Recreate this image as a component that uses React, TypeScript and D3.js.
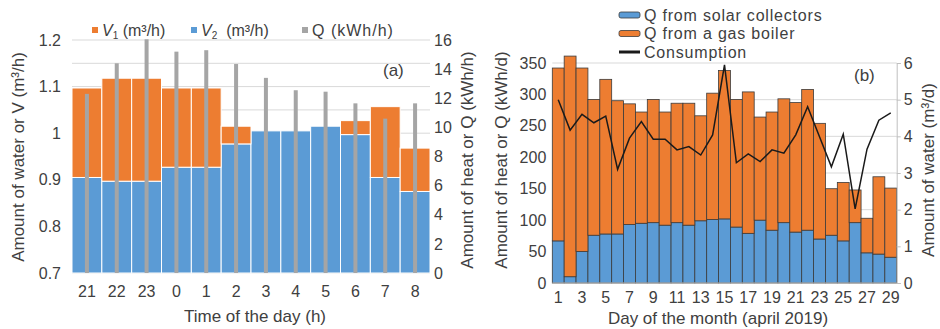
import { useEffect, useRef } from 'react'
import * as d3 from 'd3'

// chart (a): hourly water and heat
const hours = ['21', '22', '23', '0', '1', '2', '3', '4', '5', '6', '7', '8']
const v2Values = [0.905, 0.897, 0.897, 0.927, 0.927, 0.977, 1.005, 1.005, 1.015, 0.997, 0.905, 0.875]
const v1Values = [0.192, 0.221, 0.221, 0.17, 0.17, 0.038, 0, 0, 0, 0.03, 0.152, 0.093]
const qHourly = [12.3, 14.4, 16.05, 15.2, 15.3, 14.35, 13.4, 12.55, 12.45, 11.65, 10.6, 11.65]

// chart (b): daily values, april 2019
const days = [1, 2, 3, 4, 5, 6, 7, 8, 9, 10, 11, 12, 13, 14, 15, 16, 17, 18, 19, 20, 21, 22, 23, 24, 25, 26, 27, 28, 29]
const solarQ = [67, 10, 50, 76, 78, 78, 93, 95, 96, 92, 96, 92, 99, 101, 102, 89, 79, 100, 84, 96, 81, 84, 70, 76, 67, 96, 48, 46, 41]
const boilerQ = [275, 351, 292, 216, 246, 212, 192, 177, 196, 180, 190, 194, 167, 201, 236, 203, 225, 164, 188, 197, 206, 224, 184, 74, 93, 52, 55, 123, 110]
const consumption = [5.0, 4.17, 4.6, 4.37, 4.55, 3.1, 3.95, 4.4, 3.92, 3.92, 3.63, 3.72, 3.49, 4.04, 5.95, 3.28, 3.52, 3.31, 3.63, 3.54, 4.04, 4.81, 3.99, 3.17, 4.06, 2.02, 3.65, 4.44, 4.64]
const dayTicks = [1, 3, 5, 7, 9, 11, 13, 15, 17, 19, 21, 23, 25, 27, 29]

const ORANGE = '#ED7D31'
const BLUE = '#5B9BD5'
const GRAY = '#A5A5A5'
const GRID = '#D9D9D9'
const TEXT = '#404040'
const FONT = '"Liberation Sans", Arial, sans-serif'

export default function App() {
  const svgRef = useRef<SVGSVGElement>(null)

  useEffect(() => {
    if (!svgRef.current) return
    const svg = d3.select(svgRef.current)
    svg.selectAll('*').remove()
    svg.attr('font-family', FONT)

    // ---------- chart (a) ----------
    const a = svg.append('g')
    const xA = d3.scaleBand().domain(hours).range([72, 430]).padding(0)
    const yA = d3.scaleLinear().domain([0.7, 1.2]).range([273, 40])
    const yQ = d3.scaleLinear().domain([0, 16]).range([273, 40])

    a.append('g')
      .selectAll('line')
      .data(yA.ticks(10))
      .enter()
      .append('line')
      .attr('x1', 72)
      .attr('x2', 430)
      .attr('y1', (d) => yA(d))
      .attr('y2', (d) => yA(d))
      .attr('stroke', GRID)

    const rows = hours.map((h, i) => ({ h, v2: v2Values[i], v1: v1Values[i], q: qHourly[i] }))

    a.selectAll('.v2')
      .data(rows)
      .enter()
      .append('rect')
      .attr('x', (d) => xA(d.h) || 0)
      .attr('width', xA.bandwidth())
      .attr('y', (d) => yA(d.v2))
      .attr('height', (d) => yA(0.7) - yA(d.v2))
      .attr('fill', BLUE)
      .attr('stroke', '#fff')
      .attr('stroke-width', 1)

    a.selectAll('.v1')
      .data(rows.filter((d) => d.v1 > 0))
      .enter()
      .append('rect')
      .attr('x', (d) => xA(d.h) || 0)
      .attr('width', xA.bandwidth())
      .attr('y', (d) => yA(d.v2 + d.v1))
      .attr('height', (d) => yA(d.v2) - yA(d.v2 + d.v1))
      .attr('fill', ORANGE)
      .attr('stroke', '#fff')
      .attr('stroke-width', 1)

    a.selectAll('.q')
      .data(rows)
      .enter()
      .append('rect')
      .attr('x', (d) => (xA(d.h) || 0) + xA.bandwidth() / 2 - 2)
      .attr('width', 4)
      .attr('y', (d) => yQ(d.q))
      .attr('height', (d) => yQ(0) - yQ(d.q))
      .attr('fill', GRAY)

    const axA = a.append('g').attr('transform', 'translate(72,0)').call(
      d3.axisLeft(yA).ticks(5).tickFormat(d3.format('~g')).tickSize(0).tickPadding(11)
    )
    const axAR = a.append('g').attr('transform', 'translate(430,0)').call(
      d3.axisRight(yQ).ticks(8).tickSize(0).tickPadding(4)
    )
    const axAB = a.append('g').attr('transform', 'translate(0,273)').call(
      d3.axisBottom(xA).tickSize(0).tickPadding(13)
    )
    ;[axA, axAR, axAB].forEach((ax) => {
      ax.select('.domain').remove()
      ax.selectAll('text').attr('font-size', 16).attr('fill', TEXT).attr('font-family', FONT)
    })

    a.append('text')
      .attr('x', 255)
      .attr('y', 322)
      .attr('text-anchor', 'middle')
      .attr('font-size', 17)
      .attr('fill', TEXT)
      .text('Time of the day (h)')

    a.append('text')
      .attr('transform', 'translate(24,157) rotate(-90)')
      .attr('text-anchor', 'middle')
      .attr('font-size', 17)
      .attr('fill', TEXT)
      .text('Amount of water or V (m³/h)')

    a.append('text')
      .attr('transform', 'translate(473,160) rotate(-90)')
      .attr('text-anchor', 'middle')
      .attr('font-size', 17)
      .attr('fill', TEXT)
      .text('Amount of heat or Q (kWh/h)')

    a.append('text')
      .attr('x', 383)
      .attr('y', 76)
      .attr('font-size', 17)
      .attr('fill', TEXT)
      .text('(a)')

    // legend (a)
    const legA = [
      { x: 92, color: ORANGE, sub: '1', label: ' (m³/h)' },
      { x: 191, color: BLUE, sub: '2', label: '  (m³/h)' },
      { x: 302, color: GRAY, sub: '', label: 'Q (kWh/h)' },
    ]
    legA.forEach((d) => {
      a.append('rect').attr('x', d.x).attr('y', 27).attr('width', 6).attr('height', 6).attr('fill', d.color)
      const t = a
        .append('text')
        .attr('x', d.x + 10)
        .attr('y', 36)
        .attr('font-size', 16)
        .attr('fill', TEXT)
        .attr('xml:space', 'preserve')
      if (d.sub) {
        t.append('tspan').attr('font-style', 'italic').text('V')
        t.append('tspan').attr('font-size', 10).attr('dy', 3).text(d.sub)
        t.append('tspan').attr('dy', -3).text(d.label)
      } else {
        t.append('tspan').attr('letter-spacing', 1).text(d.label)
      }
    })

    // ---------- chart (b) ----------
    const b = svg.append('g')
    const xB = d3.scaleBand<number>().domain(days).range([552.3, 896.7]).padding(0)
    const yB = d3.scaleLinear().domain([0, 350]).range([283, 63])
    const yW = d3.scaleLinear().domain([0, 6]).range([283, 63])

    b.append('g')
      .selectAll('line')
      .data(yW.ticks(6))
      .enter()
      .append('line')
      .attr('x1', 552.3)
      .attr('x2', 896.7)
      .attr('y1', (d) => yW(d))
      .attr('y2', (d) => yW(d))
      .attr('stroke', GRID)

    const dayRows = days.map((d, i) => ({ d, s: solarQ[i], g: boilerQ[i], c: consumption[i] }))

    b.selectAll('.solar')
      .data(dayRows)
      .enter()
      .append('rect')
      .attr('x', (d) => xB(d.d) || 0)
      .attr('width', xB.bandwidth())
      .attr('y', (d) => yB(d.s))
      .attr('height', (d) => yB(0) - yB(d.s))
      .attr('fill', BLUE)
      .attr('stroke', '#3b3b3b')
      .attr('stroke-width', 0.8)

    b.selectAll('.gas')
      .data(dayRows)
      .enter()
      .append('rect')
      .attr('x', (d) => xB(d.d) || 0)
      .attr('width', xB.bandwidth())
      .attr('y', (d) => yB(d.s + d.g))
      .attr('height', (d) => yB(d.s) - yB(d.s + d.g))
      .attr('fill', ORANGE)
      .attr('stroke', '#3b3b3b')
      .attr('stroke-width', 0.8)

    const line = d3
      .line<(typeof dayRows)[number]>()
      .x((d) => (xB(d.d) || 0) + xB.bandwidth() / 2)
      .y((d) => yW(d.c))
    b.append('path')
      .datum(dayRows)
      .attr('d', line)
      .attr('fill', 'none')
      .attr('stroke', '#1a1a1a')
      .attr('stroke-width', 1.5)

    // bottom and right axis lines
    b.append('line').attr('x1', 552.3).attr('x2', 896.7).attr('y1', 283).attr('y2', 283).attr('stroke', '#BFBFBF')

    const axBL = b.append('g').attr('transform', 'translate(552.3,0)').call(
      d3.axisLeft(yB).ticks(7).tickSize(0).tickPadding(6)
    )
    const axBR = b.append('g').attr('transform', 'translate(896.7,0)').call(
      d3.axisRight(yW).ticks(6).tickSize(4).tickPadding(3)
    )
    const axBB = b.append('g').attr('transform', 'translate(0,283)').call(
      d3.axisBottom(xB).tickValues(dayTicks).tickSize(0).tickPadding(9)
    )
    axBL.select('.domain').remove()
    axBB.select('.domain').remove()
    axBR.select('.domain').attr('stroke', '#BFBFBF')
    axBR.selectAll('.tick line').attr('stroke', '#BFBFBF')
    ;[axBL, axBR, axBB].forEach((ax) => {
      ax.selectAll('text').attr('font-size', 16).attr('fill', TEXT).attr('font-family', FONT)
    })

    b.append('text')
      .attr('x', 718)
      .attr('y', 324)
      .attr('text-anchor', 'middle')
      .attr('font-size', 17)
      .attr('fill', TEXT)
      .text('Day of the month (april 2019)')

    b.append('text')
      .attr('transform', 'translate(507,160) rotate(-90)')
      .attr('text-anchor', 'middle')
      .attr('font-size', 17)
      .attr('fill', TEXT)
      .text('Amount of heat or Q (kWh/d)')

    b.append('text')
      .attr('transform', 'translate(934,170) rotate(-90)')
      .attr('text-anchor', 'middle')
      .attr('font-size', 17)
      .attr('fill', TEXT)
      .text('Amount of water (m³/d)')

    b.append('text')
      .attr('x', 854)
      .attr('y', 81)
      .attr('font-size', 17)
      .attr('fill', TEXT)
      .text('(b)')

    // legend (b)
    const legB = [
      { y: 15, kind: 'rect', color: BLUE, label: 'Q from solar collectors' },
      { y: 33.5, kind: 'rect', color: ORANGE, label: 'Q from a gas boiler' },
      { y: 52, kind: 'line', color: '#1a1a1a', label: 'Consumption' },
    ]
    legB.forEach((d) => {
      if (d.kind === 'rect') {
        b.append('rect')
          .attr('x', 619)
          .attr('y', d.y - 3)
          .attr('width', 21)
          .attr('height', 6)
          .attr('rx', 2)
          .attr('fill', d.color)
          .attr('stroke', '#3b3b3b')
          .attr('stroke-width', 0.8)
      } else {
        b.append('line')
          .attr('x1', 619)
          .attr('x2', 640)
          .attr('y1', d.y)
          .attr('y2', d.y)
          .attr('stroke', d.color)
          .attr('stroke-width', 3)
      }
      b.append('text')
        .attr('x', 644)
        .attr('y', d.y + 5.5)
        .attr('font-size', 16)
        .attr('letter-spacing', 0.8)
        .attr('fill', TEXT)
        .text(d.label)
    })
  }, [])

  return (
    <svg
      ref={svgRef}
      width={940}
      height={329}
      style={{ position: 'absolute', left: 0, top: 0, background: '#fff' }}
    />
  )
}
